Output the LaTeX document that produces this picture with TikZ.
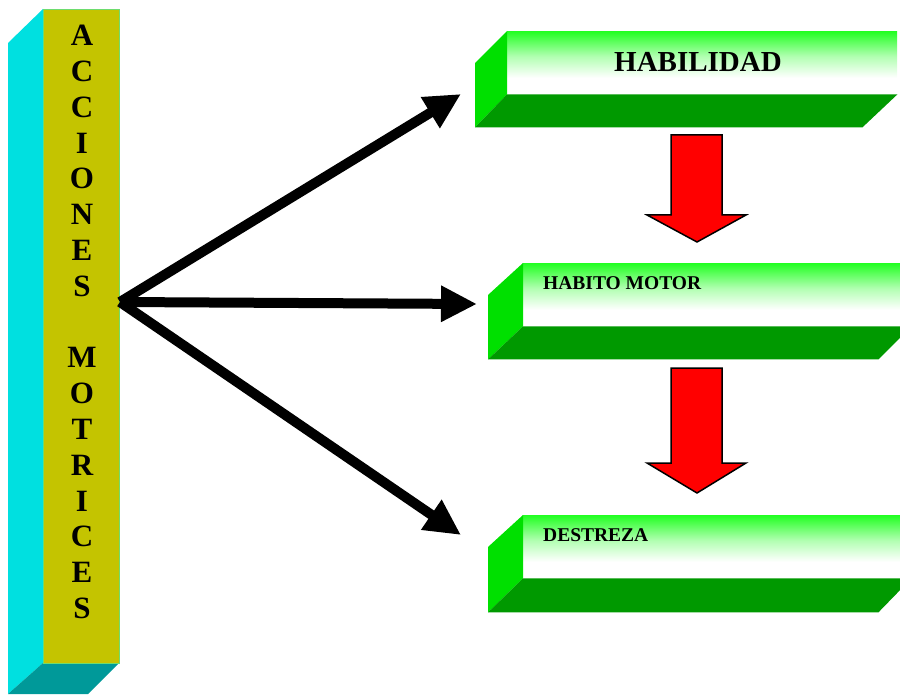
\documentclass[tikz,border=0pt]{standalone}
\usepackage{fontspec}
\setmainfont{Liberation Serif}
\usetikzlibrary{arrows.meta}
\definecolor{gtop}{RGB}{34,255,34}
\definecolor{gside}{RGB}{0,224,0}
\definecolor{gbot}{RGB}{0,153,0}
\definecolor{colfront}{RGB}{196,196,0}
\definecolor{colborder}{RGB}{110,220,110}
\definecolor{colside}{RGB}{0,224,224}
\definecolor{colbot}{RGB}{0,153,153}
\definecolor{redarrow}{RGB}{255,0,0}
\pgfdeclareverticalshading{gface}{100bp}{color(0bp)=(white); color(25bp)=(white); color(38bp)=(white); color(55bp)=(gtop!35!white); color(75bp)=(gtop); color(100bp)=(gtop)}
\tikzset{
  face/.style={draw=none, shading=gface, inner sep=0pt, anchor=north west},
  sideface/.style={fill=gside, draw=none},
  botface/.style={fill=gbot, draw=none},
  bigarrow/.style={line width=10pt, -{Triangle[length=36pt,width=34pt]}},
  blockarrow/.style={fill=redarrow, draw=black, line width=1.5pt, line join=miter},
  letter/.style={font=\fontsize{31}{31}\selectfont\bfseries, inner sep=0pt},
  bigtitle/.style={font=\fontsize{29}{29}\selectfont\bfseries, inner sep=0pt},
  smalltitle/.style={font=\fontsize{19.5}{19.5}\selectfont\bfseries, inner sep=0pt, anchor=west}
}
\begin{document}
\begin{tikzpicture}[x=1pt,y=-1pt]
\useasboundingbox (0,0) rectangle (900,695);
\begin{scope}
\clip (0,0) rectangle (900,695);
% left column
\fill[colside] (43,9) -- (8,43) -- (8,694) -- (43,663) -- cycle;
\fill[colbot] (43,663) -- (119,663) -- (88,694) -- (8,694) -- cycle;
\node[fill=colfront, draw=colborder, line width=1.2pt, inner sep=0pt, anchor=north west, minimum width=76pt, minimum height=654pt] (col) at (43,9) {};
\foreach \ch [count=\i from 0] in {A,C,C,I,O,N,E,S,{},M,O,T,R,I,C,E,S}{
  \node[letter] (l\i) at (82,{35.5+35.8*\i}) {\ch};
}
% green boxes
% box 1
\node[face, minimum width=390pt, minimum height=63pt] (hab) at (507,31) {};
\fill[sideface] (hab.north west) -- ++(-32,32) -- ([xshift=-32pt,yshift=-33pt]hab.south west) -- (hab.south west) -- cycle;
\fill[botface] (hab.south west) -- (hab.south east) -- ++(-35,33) -- ([xshift=-32pt,yshift=-33pt]hab.south west) -- cycle;
\node[bigtitle] (habt) at (698,62) {HABILIDAD};
% box 2
\node[face, minimum width=388pt, minimum height=63pt] (hm) at (523,263) {};
\fill[sideface] (hm.north west) -- ++(-35,32) -- ([xshift=-35pt,yshift=-33pt]hm.south west) -- (hm.south west) -- cycle;
\fill[botface] (hm.south west) -- (hm.south east) -- ++(-33,33) -- ([xshift=-35pt,yshift=-33pt]hm.south west) -- cycle;
\node[smalltitle] (hmt) at (543,283) {HABITO MOTOR};
% box 3
\node[face, minimum width=388pt, minimum height=63pt] (des) at (523,515) {};
\fill[sideface] (des.north west) -- ++(-35,32) -- ([xshift=-35pt,yshift=-34pt]des.south west) -- (des.south west) -- cycle;
\fill[botface] (des.south west) -- (des.south east) -- ++(-33,34) -- ([xshift=-35pt,yshift=-34pt]des.south west) -- cycle;
\node[smalltitle] (dest) at (543,535) {DESTREZA};
\end{scope}
% black arrows
\coordinate (src) at (120,302);
\coordinate (t1) at (461,94);
\coordinate (t2) at (477,304);
\coordinate (t3) at (461,535);
\draw[bigarrow] (src) -- (t1);
\draw[bigarrow] (src) -- (t2);
\draw[bigarrow] (src) -- (t3);
% red block arrows
\draw[blockarrow] (671,135) -- (722,135) -- (722,215) -- (746,215) -- (697,242) -- (647,215) -- (671,215) -- cycle;
\draw[blockarrow] (671,368) -- (722,368) -- (722,463) -- (746,463) -- (697,493) -- (647,463) -- (671,463) -- cycle;
\end{tikzpicture}
\end{document}
